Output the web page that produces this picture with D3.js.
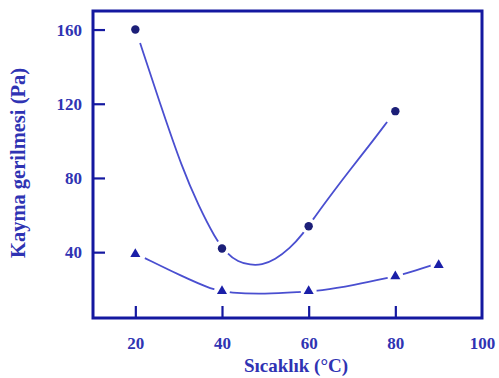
<!DOCTYPE html>
<html><head><meta charset="utf-8">
<script src="https://cdn.jsdelivr.net/npm/d3@7"></script>
<style>body{margin:0;background:#fff}</style>
</head><body>
<svg id="c" width="499" height="378"></svg>
<script>
// Data
const circleX = [20, 40, 60, 80];
const circleY = [160, 42, 54, 116];
const triX = [20, 40, 60, 80, 90];
const triY = [39, 19, 19, 27, 33];
// Fitted curves
const circleCurve = [[21.1,152.7],[26,118],[30.8,85.4],[34.6,64.9],[38.4,47.6],[41,39.5],[43.7,34.7],[46.5,33.1],[49.2,33.1],[52.2,35.8],[55.7,42.2],[58.5,49.2],[61.7,60],[65.5,72],[69.5,84.3],[74,97.5],[78.1,110.2]];
const triCurve = [[22.2,36.8],[30.3,27.5],[37.9,19.6],[41.8,18],[49.9,17.4],[58,18.5],[62.6,19.1],[70.5,22.2],[78.3,26.1],[82.2,28.2],[88.7,33.1]];
const xTicks = [20, 40, 60, 80, 100];
const yTicks = [40, 80, 120, 160];
const xTitle = "Sıcaklık (°C)";
const yTitle = "Kayma gerilmesi (Pa)";

const svg = d3.select("#c");
const L = 93, R = 482, T = 11, B = 318;
const x = d3.scaleLinear().domain([10, 100]).range([L - 1, R]);
const y = d3.scaleLinear().domain([4.5, 170]).range([B, T]);
const textCol = "#2f33b3";
const axisCol = "#1418a0";
const lineCol = "#4a4fd0";
const font = "Liberation Serif";

// axes
const gx = svg.append("g").attr("transform", `translate(0,${B})`)
  .call(d3.axisBottom(x).tickValues(xTicks).tickSize(-12).tickPadding(19).tickFormat(d3.format("d")));
const gy = svg.append("g").attr("transform", `translate(${L},0)`)
  .call(d3.axisLeft(y).tickValues(yTicks).tickSize(-12).tickPadding(11).tickFormat(d3.format("d")));
[gx, gy].forEach(g => {
  g.attr("font-family", font);
  g.select(".domain").remove();
  g.selectAll(".tick line").attr("stroke", axisCol).attr("stroke-width", 2.2);
  g.selectAll(".tick text").attr("fill", textCol).attr("font-family", font)
    .attr("font-size", 17).attr("font-weight", "bold");
});
gx.selectAll(".tick").filter(d => d === 100).select("line").remove();

// frame
svg.append("rect").attr("x", L).attr("y", T).attr("width", R - L).attr("height", B - T)
  .attr("fill", "none").attr("stroke", axisCol).attr("stroke-width", 3);

// curves
const line = d3.line().x(d => x(d[0])).y(d => y(d[1])).curve(d3.curveBasis);
svg.append("g").selectAll("path").data([circleCurve, triCurve]).join("path")
  .attr("d", line).attr("fill", "none").attr("stroke", lineCol).attr("stroke-width", 1.8);

// white halos that break the curves at the markers
const cPts = circleX.map((v, i) => [v, circleY[i]]);
const tPts = triX.map((v, i) => [v, triY[i]]);
svg.append("g").selectAll("circle").data(cPts.concat(tPts)).join("circle")
  .attr("cx", d => x(d[0])).attr("cy", d => y(d[1])).attr("r", 8).attr("fill", "#fff");

// markers
svg.append("g").selectAll("circle").data(cPts).join("circle")
  .attr("cx", d => x(d[0])).attr("cy", d => y(d[1])).attr("r", 4.2).attr("fill", "#1c1f78");
const tri = d3.symbol().type(d3.symbolTriangle).size(44);
svg.append("g").selectAll("path").data(tPts).join("path")
  .attr("d", tri).attr("transform", d => `translate(${x(d[0])},${y(d[1])})`).attr("fill", "#1a1fa8");

// titles
svg.append("text").attr("x", 296).attr("y", 372).attr("text-anchor", "middle")
  .attr("fill", textCol).attr("font-family", font).attr("font-size", 19).attr("font-weight", "bold")
  .text(xTitle);
svg.append("text").attr("transform", "translate(25,163) rotate(-90)").attr("text-anchor", "middle")
  .attr("fill", textCol).attr("font-family", font).attr("font-size", 20.5).attr("font-weight", "bold")
  .text(yTitle);
</script>
</body></html>
